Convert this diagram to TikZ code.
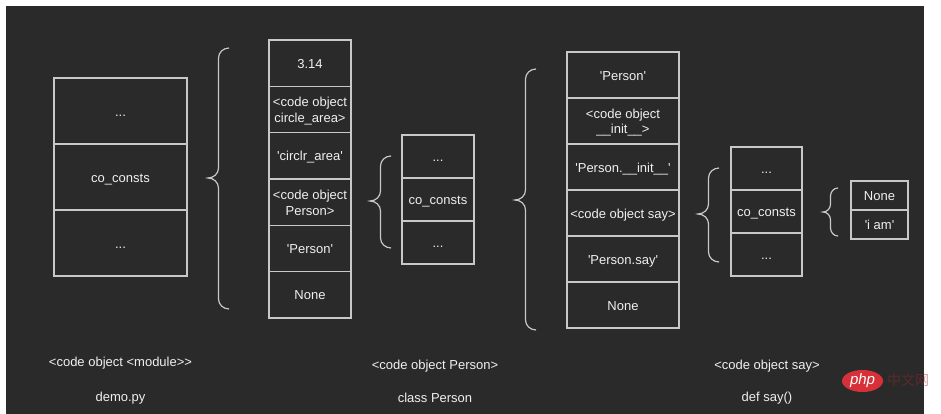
\documentclass[tikz,border=0pt]{standalone}
\usepackage{fontspec}
\setmainfont{Liberation Sans}
\newfontfamily\cjk{Noto Sans CJK SC}
\usetikzlibrary{shapes.geometric}
\definecolor{bg}{RGB}{42,42,42}
\definecolor{ln}{RGB}{200,200,200}
\definecolor{tx}{RGB}{240,240,240}
\definecolor{wmred}{RGB}{214,48,56}
\definecolor{wmtxt}{RGB}{150,40,45}
\newcommand{\sq}{\textquotesingle}
\newcommand{\ct}[1]{\raisebox{-2pt}[\height][\depth]{\begin{tabular}{@{}c@{}}#1\end{tabular}}}
% brace: xt, xe, ytop, ybot, ytip, r
\newcommand{\mybrace}[6]{%
  \pgfmathsetmacro{\xm}{(#1+#2)/2}%
  \draw[bracestyle] (#2,#3) to[out=180,in=90] (\xm,#3+#6) -- (\xm,#5-#6)
     to[out=-90,in=0] (#1,#5) to[out=0,in=90] (\xm,#5+#6) -- (\xm,#4-#6)
     to[out=-90,in=180] (#2,#4);}
\begin{document}
\begin{tikzpicture}[x=1pt,y=-1pt,
  cell/.style={draw=ln, line width=1.2pt, text=tx, inner sep=0pt,
    font=\fontsize{13}{15.6}\selectfont},
  boxa/.style={cell, minimum width=133pt, minimum height=66pt},
  boxb/.style={cell, minimum width=82pt, minimum height=46.33pt},
  boxc/.style={cell, minimum width=72pt, minimum height=43pt},
  boxd/.style={cell, minimum width=112pt, minimum height=46pt},
  boxe/.style={cell, minimum width=71pt, minimum height=43pt},
  boxf/.style={cell, minimum width=57pt, minimum height=29pt},
  lbl/.style={text=tx, inner sep=0pt, font=\fontsize{13}{15.6}\selectfont},
  bracestyle/.style={draw=ln, line width=1.2pt}]
\useasboundingbox (0,0) rectangle (941,414);
\fill[white] (0,0) rectangle (941,414);
\fill[bg] (6,6) rectangle (924,414);

% column 1
\node[boxa] (a1) at (120.5,111) {\ct{...}};
\node[boxa] (a2) at (120.5,177) {\ct{co\_consts}};
\node[boxa] (a3) at (120.5,243) {\ct{...}};

% column 2
\node[boxb] (b1) at (310,63.17) {\ct{3.14}};
\node[boxb] (b2) at (310,109.5) {\ct{<code object\\circle\_area>}};
\node[boxb] (b3) at (310,155.83) {\ct{\sq circlr\_area\sq}};
\node[boxb] (b4) at (310,202.17) {\ct{<code object\\Person>}};
\node[boxb] (b5) at (310,248.5) {\ct{\sq Person\sq}};
\node[boxb] (b6) at (310,294.83) {\ct{None}};

% column 3
\node[boxc] (c1) at (438,156.5) {\ct{...}};
\node[boxc] (c2) at (438,199.5) {\ct{co\_consts}};
\node[boxc] (c3) at (438,242.5) {\ct{...}};

% column 4
\node[boxd] (d1) at (623,75) {\ct{\sq Person\sq}};
\node[boxd] (d2) at (623,121) {\ct{<code object\\\_\_init\_\_>}};
\node[boxd] (d3) at (623,167) {\ct{\sq Person.\_\_init\_\_\sq}};
\node[boxd] (d4) at (623,213) {\ct{<code object say>}};
\node[boxd] (d5) at (623,259) {\ct{\sq Person.say\sq}};
\node[boxd] (d6) at (623,305) {\ct{None}};

% column 5
\node[boxe] (e1) at (766.5,168.5) {\ct{...}};
\node[boxe] (e2) at (766.5,211.5) {\ct{co\_consts}};
\node[boxe] (e3) at (766.5,254.5) {\ct{...}};

% column 6
\node[boxf] (f1) at (879.5,195.5) {\ct{None}};
\node[boxf] (f2) at (879.5,224.5) {\ct{\sq i am\sq}};

% braces
\mybrace{208}{229}{48}{309}{178}{10}
\mybrace{370}{391}{156}{248}{201}{10}
\mybrace{515}{536}{69}{330}{200}{10}
\mybrace{698}{719}{168}{262}{214}{10}
\mybrace{823}{838}{188}{236}{212}{8}

% labels
\node[lbl] (l1) at (120.5,363) {<code object <module>{}>};
\node[lbl] (l2) at (120.5,398) {demo.py};
\node[lbl] (l3) at (435,366) {<code object Person>};
\node[lbl] (l4) at (435,398) {class Person};
\node[lbl] (l5) at (767,366) {<code object say>};
\node[lbl] (l6) at (767,398) {def say()};

% watermark
\node[ellipse, fill=wmred, minimum width=41pt, minimum height=22pt, inner sep=0pt,
  text=white, font=\fontsize{15}{15}\selectfont\itshape] (wm) at (862.5,381) {php};
\node[inner sep=0pt, text=wmtxt, opacity=0.45, font=\cjk\fontsize{14}{14}\selectfont,
  anchor=west] (wmt) at (887,380.5) {中文网};
\end{tikzpicture}
\end{document}
